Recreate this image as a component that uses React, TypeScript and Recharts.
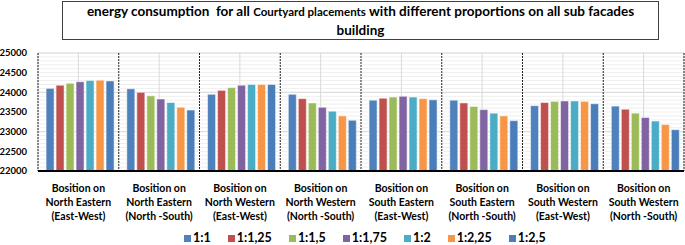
import React from "react";
import { BarChart, Bar, XAxis, YAxis, CartesianGrid } from "recharts";

const facades = [
  "North Eastern", "North Eastern", "North Western", "North Western",
  "South Eastern", "South Eastern", "South Western", "South Western",
];
const orientations = [
  "(East-West)", "(North -South)", "(East-West)", "(North -South)",
  "(East-West)", "(North -South)", "(East-West)", "(North -South)",
];

const proportions = ["1:1", "1:1,25", "1:1,5", "1:1,75", "1:2", "1:2,25", "1:2,5"];
const colors = ["#4F81BD", "#C0504D", "#9BBB59", "#8064A2", "#4BACC6", "#F79646", "#4A7EBB"];

const p1_1 = [24100, 24090, 23950, 23950, 23800, 23800, 23660, 23650];
const p1_125 = [24180, 24000, 24050, 23840, 23850, 23730, 23740, 23570];
const p1_15 = [24230, 23910, 24120, 23730, 23880, 23640, 23770, 23470];
const p1_175 = [24270, 23830, 24180, 23620, 23900, 23560, 23780, 23360];
const p1_2 = [24300, 23740, 24200, 23520, 23880, 23470, 23780, 23270];
const p1_225 = [24310, 23620, 24200, 23400, 23840, 23400, 23770, 23180];
const p1_25 = [24290, 23550, 24200, 23290, 23810, 23280, 23710, 23050];

const yMin = 22000;
const yMax = 25000;
const yTicks = [22000, 22500, 23000, 23500, 24000, 24500, 25000];
const minorTicks: number[] = [];
for (let v = yMin; v <= yMax; v += 100) minorTicks.push(v);

const series = [p1_1, p1_125, p1_15, p1_175, p1_2, p1_225, p1_25];
const data = facades.map((f, i) => {
  const row: { [k: string]: any } = { name: i, facade: f, orient: orientations[i] };
  series.forEach((s, j) => (row["s" + j] = s[i]));
  return row;
});

const FONT = "Lato, 'Open Sans', sans-serif";

const CategoryTick = (props: any) => {
  const { x, y, payload } = props;
  const i = payload.value;
  return (
    <text x={x} y={y} textAnchor="middle" fontFamily={FONT} fontWeight="bold" fontSize={10.5} fill="#000">
      <tspan x={x} dy={13}>Bosition on</tspan>
      <tspan x={x} dy={14}>{facades[i]}</tspan>
      <tspan x={x} dy={14}>{orientations[i]}</tspan>
    </text>
  );
};

// minor gridlines between the labelled ticks
const minorLines = ({ yAxis, offset }: any) => {
  if (yAxis && typeof yAxis.scale === "function") return minorTicks.map((t) => yAxis.scale(t));
  return minorTicks.map((t) => offset.top + ((yMax - t) / (yMax - yMin)) * offset.height);
};

export default function App() {
  return (
    <div style={{ position: "absolute", left: 0, top: 0, width: 685, height: 245, background: "#fff" }}>
      <div
        style={{
          position: "absolute", left: 62, top: 1, width: 595, height: 37,
          border: "1.5px solid #404040", fontFamily: FONT, fontWeight: "bold",
          fontSize: 13.5, lineHeight: "18px", textAlign: "center", whiteSpace: "nowrap",
        }}
      >
        energy consumption&nbsp; for all <span style={{ fontSize: 11.5 }}>Courtyard placements</span> with different proportions on all sub facades
        <br />
        building
      </div>
      <BarChart
        width={685}
        height={245}
        data={data}
        margin={{ top: 53, right: 1, left: 0, bottom: 24 }}
        barCategoryGap="10%"
        barGap={2}
      >
        <CartesianGrid vertical={false} stroke="#efefef" horizontalCoordinatesGenerator={minorLines} />
        <CartesianGrid stroke="#d9d9d9" />
        <CartesianGrid
          horizontal={false}
          stroke="#222"
          strokeDasharray="2 1"
          verticalCoordinatesGenerator={({ offset }: any) =>
            data.map((_, i) => offset.left + (i * offset.width) / data.length).concat(offset.left + offset.width)
          }
        />
        <XAxis
          dataKey="name"
          height={50}
          tickLine={false}
          axisLine={{ stroke: "#000", strokeWidth: 2 }}
          interval={0}
          tick={<CategoryTick />}
        />
        <YAxis
          domain={[yMin, yMax]}
          ticks={yTicks}
          width={38}
          axisLine={false}
          tickLine={false}
          tickSize={0}
          tickMargin={11}
          tick={{ fontFamily: FONT, fontWeight: "bold", fontSize: 9.5, fill: "#000" }}
        />
        {proportions.map((p, j) => (
          <Bar
            key={p}
            dataKey={"s" + j}
            name={p}
            fill={colors[j]}
            stroke="#ffffff"
            strokeOpacity={0.5}
            isAnimationActive={false}
          />
        ))}
      </BarChart>
      <div
        style={{
          position: "absolute", left: 184, top: 230, display: "flex",
          gap: 17, fontFamily: FONT, fontWeight: "bold", fontSize: 12.5, lineHeight: "16px",
        }}
      >
        {proportions.map((p, j) => (
          <span key={p} style={{ display: "flex", alignItems: "center" }}>
            <span style={{ width: 7, height: 7, background: colors[j], marginRight: 2, display: "inline-block" }} />
            {p}
          </span>
        ))}
      </div>
    </div>
  );
}
